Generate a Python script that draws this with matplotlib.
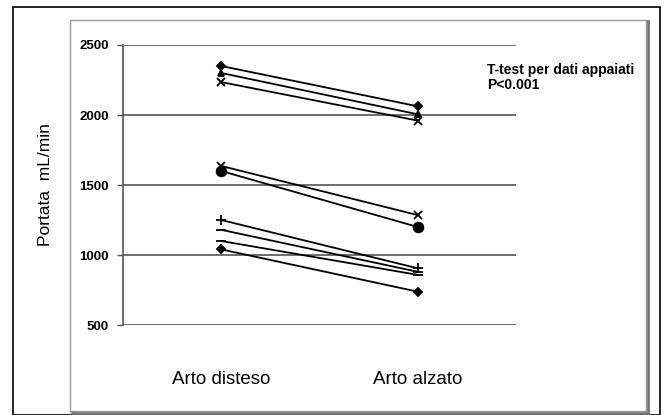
import matplotlib.pyplot as plt
from matplotlib.patches import Rectangle

plt.rcParams['font.family'] = ['Liberation Sans', 'DejaVu Sans']

categorie = ["Arto disteso", "Arto alzato"]
pos = [1, 2]

# portata per ogni paziente (disteso, alzato)
disteso = [2350, 2300, 2235, 1636, 1600, 1250, 1180, 1100, 1040]
alzato = [2062, 2005, 1960, 1285, 1200, 905, 880, 858, 738]
marcatori = ['D', '^', 'x', 'x', 'o', '+', '_', '_', 'D']
dim_marc = [4, 5, 6, 6, 7, 7, 7, 7, 4]

yticks = [500, 1000, 1500, 2000, 2500]

W, H = 664, 415
fig = plt.figure(figsize=(W / 100, H / 100), dpi=100)

# cornice esterna nera e riquadro grigio con ombra
fig.patches.append(Rectangle((13 / W, 0), 647 / W, 1 - 7 / H, transform=fig.transFigure,
                             fill=False, ec='black', lw=1.2, zorder=-3))
fig.patches.append(Rectangle((72 / W, 2 / H), 576 / W, 1 - 23 / H, transform=fig.transFigure,
                             fill=False, ec='#777777', lw=2.0, zorder=-2))
fig.patches.append(Rectangle((70 / W, 4 / H), 576 / W, 1 - 24 / H, transform=fig.transFigure,
                             fc='white', ec='#9a9a9a', lw=1.0, zorder=-1))

ax = fig.add_axes([123 / W, 90 / H, 393 / W, 280 / H])
ax.set_facecolor('none')

for d, a, m, s in zip(disteso, alzato, marcatori, dim_marc):
    ax.plot(pos, [d, a], color='black', lw=1.3, marker=m, ms=s,
            mec='black', mfc='black', mew=1.3, zorder=3)

ax.set_xlim(0.5, 2.5)
ax.set_ylim(500, 2500)
ax.set_yticks(yticks)
ax.set_yticklabels([str(v) for v in yticks], fontsize=9.5, fontweight='bold')
ax.set_xticks(pos)
ax.set_xticklabels(categorie, fontsize=13.5)
ax.tick_params(axis='x', length=0, pad=33)
ax.tick_params(axis='y', length=4, width=1, color='#555555', pad=6)

for v in yticks:
    ax.axhline(v, color='#555555', lw=1.2, zorder=1)

for sp in ['top', 'right', 'bottom']:
    ax.spines[sp].set_visible(False)
ax.spines['left'].set_color('#555555')
ax.spines['left'].set_linewidth(1.2)

ax.set_ylabel("Portata  mL/min", fontsize=12.5, labelpad=19)

fig.text(487 / W, 1 - 63 / H, "T-test per dati appaiati\nP<0.001", fontsize=10,
         fontweight='bold', va='top', ha='left', linespacing=1.05)

fig.savefig("out.png", dpi=100)
